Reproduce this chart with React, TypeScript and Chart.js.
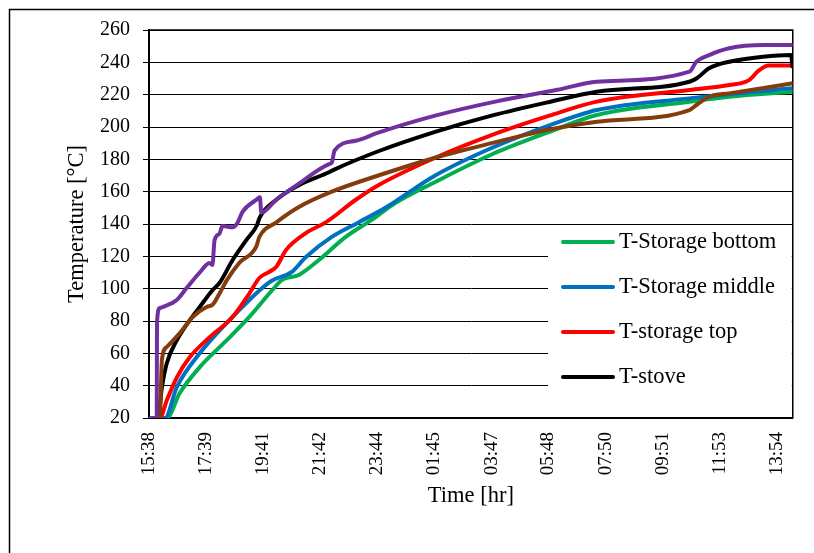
import React, { useEffect, useRef } from 'react';
import { Chart, registerables } from 'chart.js';

Chart.register(...registerables);

const FONT = "'Liberation Serif', 'Times New Roman', serif";

// x tick labels (clock time); position = minutes since first label
const xTickLabels = ['15:38', '17:39', '19:41', '21:42', '23:44', '01:45', '03:47', '05:48', '07:50', '09:51', '11:53', '13:54'];
const xMaxMinutes = 1370;

const yMin = 20;
const yMax = 260;
const yStep = 20;

// Series: time (minutes since 15:38) and temperature (°C)
const purpleTime = [0, 13, 16.5, 17, 23, 30, 59, 80, 108, 129, 135, 139.5, 150, 156, 178, 188, 199, 228, 236, 239, 271, 319, 383, 389, 395, 440, 488, 609, 742, 869, 953, 1150, 1165, 1192, 1235, 1307, 1370];
const purpleTemp = [20, 20, 21, 79, 88, 88.7, 93, 100.4, 110, 115.9, 114.6, 130, 134, 138.7, 138, 140.6, 147.5, 154.9, 156.5, 147, 155, 165, 177, 178, 185.5, 191.5, 196.5, 207, 216, 223, 228, 234.2, 240.4, 244.5, 248.7, 250.7, 250.7];

const brownTime = [0, 23, 27.5, 38, 65.5, 93, 122.6, 135.3, 150, 165, 192, 228, 235, 271, 319, 389, 488, 609, 729, 852, 953, 1150, 1165, 1192, 1235, 1370];
const brownTemp = [20, 20, 56, 64, 72.5, 82.5, 88.7, 90, 97, 105, 115.9, 125.8, 132, 141, 150.5, 160, 170, 181, 190, 198.5, 203.3, 210.5, 213.6, 218.7, 220.8, 227];

const stoveTime = [0, 19, 27.5, 38, 59, 87, 108, 135, 150, 178, 207, 230, 235, 271, 319, 383, 393, 488, 609, 729, 852, 953, 1150, 1165, 1192, 1235, 1307, 1366, 1370];
const stoveTemp = [20, 20, 39, 54, 68, 80.6, 88.7, 99, 103.5, 117.7, 130, 139.4, 143.7, 155, 164, 172, 173.5, 185, 197, 207, 215.5, 221.8, 228, 230, 236.3, 240.4, 243.5, 244.5, 236.5];

const topTime = [0, 23, 38, 59, 87, 129, 178, 213.5, 234.7, 255.8, 270.6, 291.8, 334, 376, 440, 488, 609, 729, 852, 953, 1150, 1235, 1277, 1298, 1319, 1370];
const topTemp = [20, 20, 31, 45, 57.7, 70, 82.5, 97, 106.6, 110.4, 113.4, 124, 134.4, 141, 155, 164, 181, 195, 207, 215.7, 222.9, 226, 229, 235, 238, 238];

const middleTime = [0, 34, 59, 108, 165, 213.5, 241, 262, 304, 334, 389, 446, 503, 609, 729, 852, 953, 1150, 1370];
const middleTemp = [20, 20, 39, 60, 78.7, 93, 100.4, 105, 110.4, 119.6, 132, 141, 150, 170, 187, 201, 210.5, 217.7, 223.9];

const bottomTime = [0, 38, 65.5, 108, 165, 213.5, 262, 283, 319, 361.5, 418.6, 473.6, 524, 609, 729, 852, 953, 1150, 1235, 1370];
const bottomTemp = [20, 20, 35.5, 51.5, 68, 82.5, 99, 105.4, 108.5, 117.7, 132, 142.5, 153, 166, 183, 197, 207.4, 215.6, 218.7, 221.8];

const legendLabels = ['T-Storage bottom', 'T-Storage middle', 'T-storage top', 'T-stove'];
const legendColors = ['#00B050', '#0070C0', '#FF0000', '#000000'];

function minutesFromStart(label: string): number {
  const [h0, m0] = xTickLabels[0].split(':').map(Number);
  const [h, m] = label.split(':').map(Number);
  let d = h * 60 + m - (h0 * 60 + m0);
  if (d < 0) d += 1440;
  return d;
}

function toPoints(t: number[], v: number[]) {
  return t.map((x, i) => ({ x, y: v[i] }));
}

const framePlugin = {
  id: 'frame',
  beforeDraw(chart: any) {
    const ctx = chart.ctx;
    ctx.save();
    ctx.strokeStyle = '#000';
    ctx.lineWidth = 1.5;
    ctx.beginPath();
    ctx.moveTo(9.5, chart.height);
    ctx.lineTo(9.5, 9.5);
    ctx.lineTo(chart.width, 9.5);
    ctx.stroke();
    ctx.restore();
  },
  beforeDatasetsDraw(chart: any) {
    const ctx = chart.ctx;
    const a = chart.chartArea;
    ctx.save();
    // legend box
    ctx.fillStyle = '#fff';
    ctx.fillRect(548, 229, a.right - 1 - 548, 401 - 229);
    ctx.font = `22.5px ${FONT}`;
    ctx.textBaseline = 'middle';
    ctx.textAlign = 'left';
    legendLabels.forEach((lab, i) => {
      const y = 242 + i * 45;
      ctx.strokeStyle = legendColors[i];
      ctx.lineWidth = 4;
      ctx.lineCap = 'round';
      ctx.beginPath();
      ctx.moveTo(563, y);
      ctx.lineTo(613, y);
      ctx.stroke();
      ctx.fillStyle = '#000';
      ctx.fillText(lab, 619, y);
    });
    // plot border
    ctx.strokeStyle = '#000';
    ctx.lineWidth = 1.5;
    ctx.lineCap = 'butt';
    ctx.strokeRect(a.left, a.top, a.right - a.left, a.bottom - a.top);
    ctx.restore();
  },
};

export default function App() {
  const ref = useRef<HTMLCanvasElement>(null);
  useEffect(() => {
    document.body.style.margin = '0';
    const tickVals = xTickLabels.map(minutesFromStart);
    const ds = (label: string, color: string, t: number[], v: number[]) => ({
      label,
      data: toPoints(t, v),
      borderColor: color,
      backgroundColor: color,
      borderWidth: 4,
      pointRadius: 0,
      fill: false,
      cubicInterpolationMode: 'monotone' as const,
    });
    const chart = new Chart(ref.current!, {
      type: 'line',
      data: {
        datasets: [
          ds('Series 6', '#7030A0', purpleTime, purpleTemp),
          ds('Series 5', '#843C0C', brownTime, brownTemp),
          ds('T-stove', '#000000', stoveTime, stoveTemp),
          ds('T-storage top', '#FF0000', topTime, topTemp),
          ds('T-Storage middle', '#0070C0', middleTime, middleTemp),
          ds('T-Storage bottom', '#00B050', bottomTime, bottomTemp),
        ],
      },
      options: {
        responsive: false,
        animation: false,
        layout: { padding: { top: 30, right: 17, left: 0, bottom: 0 } },
        plugins: { legend: { display: false }, tooltip: { enabled: false } },
        scales: {
          x: {
            type: 'linear',
            min: 0,
            max: xMaxMinutes,
            afterBuildTicks: (s: any) => {
              s.ticks = tickVals.map((v) => ({ value: v }));
            },
            afterFit: (s: any) => {
              s.height = 135;
            },
            grid: { display: false, drawTicks: false },
            border: { display: true, color: '#000', width: 2 },
            ticks: {
              autoSkip: false,
              minRotation: 90,
              maxRotation: 90,
              padding: 14,
              color: '#000',
              font: { family: FONT, size: 19 },
              callback: (_v: any, i: number) => xTickLabels[i],
            },
            title: {
              display: true,
              text: 'Time [hr]',
              color: '#000',
              font: { family: FONT, size: 22.5 },
              padding: { top: 0, bottom: 43 },
            },
          },
          y: {
            min: yMin,
            max: yMax,
            afterFit: (s: any) => {
              s.width = 149;
            },
            ticks: { stepSize: yStep, padding: 13, color: '#000', font: { family: FONT, size: 20 } },
            grid: { color: '#000', lineWidth: 1, tickLength: 6, drawTicks: true },
            border: { display: true, color: '#000', width: 2 },
            title: {
              display: true,
              text: 'Temperature [°C]',
              color: '#000',
              font: { family: FONT, size: 22.5 },
              padding: { top: 64, bottom: 0 },
            },
          },
        },
      },
      plugins: [framePlugin],
    });
    return () => chart.destroy();
  }, []);
  return (
    <div style={{ position: 'absolute', left: 0, top: 0, width: 814, height: 553 }}>
      <canvas ref={ref} width={814} height={553} style={{ display: 'block' }} />
    </div>
  );
}
